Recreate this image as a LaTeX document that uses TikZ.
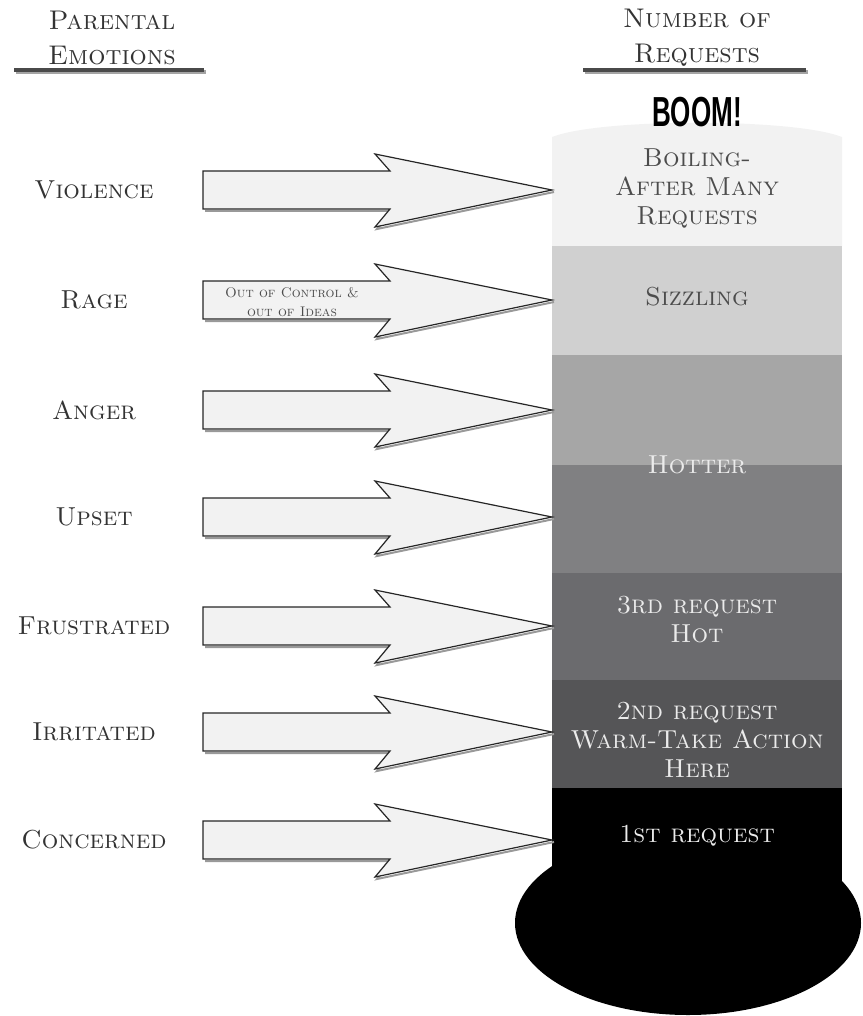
\documentclass[tikz,border=0pt]{standalone}
\usepackage{fontspec}
\usepackage{graphicx}
\usetikzlibrary{positioning}
\newfontfamily\boomfont{Liberation Sans}
\definecolor{boilgray}{HTML}{F2F2F2}
\definecolor{sizzlegray}{HTML}{D0D0D0}
\definecolor{angergray}{HTML}{A6A6A6}
\definecolor{upsetgray}{HTML}{808082}
\definecolor{hotgray}{HTML}{6B6B6E}
\definecolor{warmgray}{HTML}{555557}
\definecolor{rulegray}{HTML}{4A4A4A}

\begin{document}
\begin{tikzpicture}[x=0.5pt, y=-0.5pt,
  emotion/.style={font=\fontsize{13}{15}\selectfont\scshape, text=black!80},
  header/.style={font=\fontsize{13.5}{17.5}\selectfont\scshape, align=center, text=black!80},
  level/.style={font=\fontsize{13}{14.5}\selectfont\scshape, align=center},
  blockarrow/.style={draw=black!85, fill=black!5, line width=0.6pt, line join=miter},
  arrowshade/.style={draw=black!40, line width=1pt, line join=miter}]
  \useasboundingbox (0,0) rectangle (862,1016);
  % headers
  \node[header] (parental) at (112,38) {Parental\\Emotions};
  \node[header] (number) at (697,38) {Number of\\Requests};
  \draw[rulegray!50, line width=2pt] (16,72) -- (206,72);
  \draw[rulegray!50, line width=2pt] (585,72) -- (808,72);
  \draw[rulegray, line width=2pt] (14,70) -- (204,70);
  \draw[rulegray, line width=2pt] (583,70) -- (806,70);
  % bulb
  \fill[black] (688,923) ellipse [x radius=173, y radius=92];
  % tube
  \fill[boilgray] (552,246) -- (552,137) .. controls (600,118) and (794,118) .. (842,137) -- (842,246) -- cycle;
  \foreach \top/\bot/\col in {246/355/sizzlegray, 355/465/angergray, 465/573/upsetgray,
      573/680/hotgray, 680/788/warmgray, 788/900/black}
    \fill[\col] (552,\top) rectangle (842,\bot);
  \node[font=\boomfont\bfseries\fontsize{21}{21}\selectfont, inner sep=0pt] (boom) at (697,112) {\scalebox{0.62}[1]{BOOM!}};
  % levels
  \node[level, text=black!70] (boiling) at (697,188) {Boiling-\\After Many\\Requests};
  \node[level, text=black!70] (sizzling) at (697,297) {Sizzling};
  \node[level, text=white!92!black] (hotter) at (697,465) {Hotter};
  \node[level, text=white!92!black] (third) at (697,620) {3rd request\\Hot};
  \node[level, text=white!92!black] (second) at (697,740) {2nd request\\Warm-Take Action\\Here};
  \node[level, text=white!92!black] (first) at (697,836) {1st request};
  % emotions and arrows
  \foreach \c/\lab/\nm in {190/Violence/violence, 300/Rage/rage, 410/Anger/anger,
      517/Upset/upset, 626/Frustrated/frustrated, 732/Irritated/irritated,
      840/Concerned/concerned} {
    \node[emotion] (\nm) at (94,\c) {\lab};
    \begin{scope}[shift={(0,\c)}]
      \draw[arrowshade] (205,21) -- (392,21) -- (377,39) -- (554,2);
      \filldraw[blockarrow] (203,-19) -- (390,-19) -- (375,-36) -- (552,0)
        -- (375,37) -- (390,19) -- (203,19) -- cycle;
      \coordinate (tip-\nm) at (552,0);
    \end{scope}
  }
  \node[font=\fontsize{7}{9.5}\selectfont\scshape, align=center, text=black!70] (ideas) at (292,302)
    {Out of Control \&\\out of Ideas};
\end{tikzpicture}
\end{document}
